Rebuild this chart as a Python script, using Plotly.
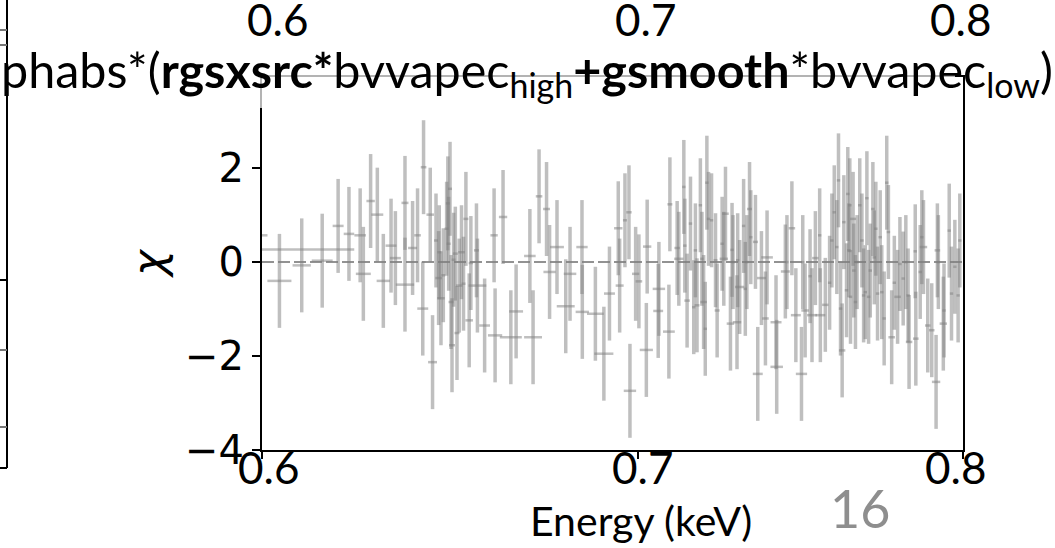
import plotly.graph_objects as go
import math

# ---- data ----
energy_kev = [
    0.5950, 0.5980,
    0.60431, 0.60986, 0.61501, 0.61904, 0.62180, 0.62466, 0.62548, 0.62735, 0.62908,
    0.63063, 0.63263, 0.63376, 0.63626, 0.63626, 0.63825, 0.63955, 0.64113, 0.64092, 0.64289,
    0.64350, 0.64441, 0.64510, 0.64528, 0.64573, 0.64635, 0.64723, 0.64755, 0.64776, 0.64813,
    0.64840, 0.64866, 0.64908, 0.64954, 0.64999, 0.65058, 0.65119, 0.65173, 0.65237, 0.65325,
    0.65370, 0.65520, 0.65546, 0.65740,
    0.65996, 0.66023, 0.66239, 0.66451, 0.66595, 0.66972, 0.67060, 0.67225, 0.67432, 0.67516,
    0.67722, 0.67965, 0.68085, 0.68420, 0.68429, 0.68797, 0.69037,
    0.69196, 0.69446, 0.69486, 0.69637, 0.69752, 0.69780, 0.69943, 0.70037, 0.70275, 0.70251,
    0.70614, 0.70594, 0.70904, 0.70933, 0.71145, 0.71194, 0.71340, 0.71369, 0.71436, 0.71535,
    0.71631, 0.71680, 0.71727, 0.71826, 0.71872, 0.71922, 0.71971, 0.72018, 0.72067, 0.72156,
    0.72274, 0.72322,
    0.72470, 0.72520, 0.72570, 0.72718, 0.72766, 0.72795, 0.72914, 0.72934, 0.72994, 0.73112,
    0.73163, 0.73210, 0.73290, 0.73328, 0.73468, 0.73538, 0.73649, 0.73770, 0.73819, 0.74091,
    0.74112, 0.74375, 0.74424, 0.74575, 0.74696, 0.74869, 0.74908, 0.74981, 0.75133, 0.75193,
    0.75297, 0.75430, 0.75451, 0.75605, 0.75738, 0.75809, 0.75883, 0.75963, 0.76015,
    0.76079, 0.76129, 0.76182, 0.76266, 0.76306, 0.76338, 0.76369, 0.76391, 0.76472, 0.76493,
    0.76546, 0.76596, 0.76681, 0.76749, 0.76803, 0.76856, 0.76906, 0.76960, 0.77013, 0.77095,
    0.77139, 0.77189, 0.77243, 0.77327, 0.77377, 0.77453, 0.77535, 0.77588, 0.77692, 0.77777,
    0.77881, 0.77956, 0.78060, 0.78145, 0.78217, 0.78249, 0.78447, 0.78466, 0.78607, 0.78659,
    0.78713, 0.78851, 0.78980, 0.79121, 0.79163, 0.79195, 0.79356, 0.79379, 0.79549, 0.79624,
    0.79733, 0.79840, 0.79895,
]

energy_halfwidth = [
    0.02815, 0.00335,
    0.00298, 0.00229, 0.00264, 0.00139, 0.00134, 0.00148, 0.00192, 0.00108, 0.00154,
    0.00173, 0.00142, 0.00142, 0.00091, 0.00240, 0.00118, 0.00087, 0.00074, 0.00144, 0.00100,
    0.00118, 0.00053, 0.00087, 0.00053, 0.00100, 0.00053, 0.00053, 0.00053, 0.00053, 0.00053,
    0.00067, 0.00080, 0.00053, 0.00067, 0.00067, 0.00088, 0.00088, 0.00053, 0.00067, 0.00101,
    0.00060, 0.00067, 0.00240, 0.00146,
    0.00099, 0.00193, 0.00113, 0.00300, 0.00190, 0.00159, 0.00246, 0.00090, 0.00096, 0.00170,
    0.00192, 0.00250, 0.00175, 0.00159, 0.00187, 0.00237, 0.00270,
    0.00156, 0.00120, 0.00114, 0.00057, 0.00077, 0.00177, 0.00105, 0.00095, 0.00120, 0.00190,
    0.00180, 0.00143, 0.00172, 0.00072, 0.00080, 0.00135, 0.00050, 0.00050, 0.00080, 0.00050,
    0.00050, 0.00050, 0.00073, 0.00050, 0.00050, 0.00096, 0.00050, 0.00050, 0.00050, 0.00050,
    0.00058, 0.00073,
    0.00050, 0.00124, 0.00098, 0.00112, 0.00050, 0.00050, 0.00127, 0.00050, 0.00139, 0.00050,
    0.00050, 0.00050, 0.00075, 0.00050, 0.00075, 0.00150, 0.00136, 0.00100, 0.00176, 0.00167,
    0.00190, 0.00137, 0.00050, 0.00100, 0.00152, 0.00173, 0.00050, 0.00116, 0.00052, 0.00153,
    0.00100, 0.00052, 0.00154, 0.00100, 0.00052, 0.00052, 0.00052, 0.00052, 0.00052,
    0.00054, 0.00100, 0.00054, 0.00054, 0.00054, 0.00054, 0.00054, 0.00054, 0.00094, 0.00054,
    0.00054, 0.00054, 0.00054, 0.00054, 0.00054, 0.00054, 0.00054, 0.00054, 0.00054, 0.00054,
    0.00054, 0.00054, 0.00054, 0.00054, 0.00054, 0.00054, 0.00054, 0.00054, 0.00104, 0.00054,
    0.00104, 0.00054, 0.00054, 0.00054, 0.00054, 0.00104, 0.00054, 0.00090, 0.00054, 0.00054,
    0.00120, 0.00090, 0.00090, 0.00136, 0.00090, 0.00054, 0.00120, 0.00054, 0.00054, 0.00054,
    0.00054, 0.00054, 0.00054,
]

chi_residual = [
    0.27, 0.57,
    -0.40, -0.07, 0.03, 0.77, 0.60, 0.57, -0.25, 1.30, 1.01,
    -0.40, 0.35, 0.085, 1.26, -0.48, 0.30, 0.57, 2.02, -0.99, 1.01,
    -2.13, 0.46, -0.34, 0.21, -0.77, -0.28, 0.71, 1.25, 0.39, 1.56,
    -0.85, -1.77, 0.05, 0.18, -1.51, -0.50, 0.21, -0.46, 0.92, -1.24,
    -0.02, 0.25, -0.50, -1.35,
    0.57, -1.56, 0.96, -1.60, -1.05, 0.13, -1.60, 1.40, 1.13, -0.21,
    0.32, -0.94, -0.25, 0.32, -1.06, -1.10, -1.95,
    -0.67, 0.72, -0.50, 0.89, 1.06, -2.74, -0.25, -0.41, 0.33, -1.87,
    -0.57, -1.04, -1.48, 1.23, 0.30, 0.07, 1.60, 0.35, -0.82, 0.82,
    -0.96, 0.25, -0.92, 1.21, 0.07, -0.85, -1.42, 1.69, 0.92, 0.89,
    0.04, -1.03,
    0.39, 0.07, 1.03, -1.31, 0.26, 0.00, -1.28, 0.04, -0.53, 0.77,
    -0.57, 0.00, 1.13, 0.53, 0.43, -2.38, -0.34, -1.20, 0.10, -1.28,
    -2.23, -0.20, 0.00, 0.72, -1.13, -2.38, 0.00, -1.03, -0.30, -1.13,
    0.085, 0.57, -1.13, -0.91, -0.44, 0.46, 1.06, 0.32, 1.74,
    -0.99, -1.88, 0.85, -0.60, 1.45, 0.25, 1.21, -0.74, 0.92, -0.18,
    -0.85, 0.00, 1.21, 0.46, -0.71, -0.64, 1.36, -0.74, -0.18, 1.13,
    0.10, 0.71, -0.67, 0.53, -0.64, -1.20, 1.69, 0.64, -1.60, -0.44,
    -0.74, -0.04, -0.35, 0.00, -0.71, -1.70, 0.23, -1.63, -0.21, 0.53,
    0.32, -1.35, -1.45, -2.55, 0.25, 0.00, -1.31, -1.03, 0.67, -0.67,
    -0.10, -0.71, 0.46,
]

chi_sigma = 1.0            # residuals in units of sigma
x_tick_values = [0.6, 0.7, 0.8]
x_tick_labels = ["0.6", "0.7", "0.8"]
y_tick_values = [-4, -2, 0, 2]
x_range = [0.6, 0.8]
y_range = [-4, 3.94]

title_html = ("phabs*(<b>rgsxsrc*</b>bvvapec<sub>high</sub>"
              "<b>+gsmooth</b>*bvvapec<sub>low</sub>)")

W, H = 1055, 548
L, R, T, B = 262, 92, 77, 98
PW, PH = W - L - R, H - T - B


def px(xp):
    return (xp - L) / PW


def py(yp):
    return (H - B - yp) / PH


bar_color = "rgba(128,128,128,0.5)"

fig = go.Figure()
fig.add_trace(go.Scatter(
    x=energy_kev, y=chi_residual, mode="markers",
    marker=dict(size=1, color="rgba(0,0,0,0)"),
    error_y=dict(type="constant", value=chi_sigma, color=bar_color,
                 thickness=3.5, width=0),
    error_x=dict(type="data", array=energy_halfwidth, color=bar_color,
                 thickness=2.5, width=0),
    hoverinfo="skip", showlegend=False,
))

shapes = []
# dashed zero line
shapes.append(dict(type="line", xref="paper", x0=0, x1=1, yref="y", y0=0, y1=0,
                   line=dict(color="rgba(110,110,110,0.75)", width=2, dash="12px,4px"),
                   layer="below"))
# translucent box under the slide title
shapes.append(dict(type="rect", xref="paper", yref="paper",
                   x0=px(0), x1=px(955), y0=py(108), y1=py(40),
                   fillcolor="rgba(255,255,255,0.7)", line=dict(width=0), layer="above"))
# neighbouring panel frame on the far left
shapes.append(dict(type="line", xref="paper", yref="paper", x0=px(7), x1=px(7),
                   y0=py(0), y1=py(468), line=dict(color="black", width=2)))
for yy, col in [(280, "black"), (350, "#777777"), (427, "#777777"), (468, "black"),
                (30, "#777777"), (45, "#777777")]:
    shapes.append(dict(type="line", xref="paper", yref="paper", x0=px(0), x1=px(7),
                       y0=py(yy), y1=py(yy), line=dict(color=col, width=2)))

annotations = []
annotations.append(dict(text=title_html, xref="paper", yref="paper",
                        x=px(527), y=py(72), xanchor="center", yanchor="middle",
                        showarrow=False, font=dict(family="Lato", size=48.5, color="black")))
for lab, xc in zip(x_tick_labels, [277, 645, 960]):
    annotations.append(dict(text=lab, xref="paper", yref="paper", x=px(xc), y=py(19),
                            xanchor="center", yanchor="middle", showarrow=False,
                            font=dict(family="Lato", size=44, color="black")))
for lab, xc in zip(x_tick_labels, [268, 642, 955]):
    annotations.append(dict(text=lab, xref="paper", yref="paper", x=px(xc), y=py(467),
                            xanchor="center", yanchor="middle", showarrow=False,
                            font=dict(family="Lato", size=44, color="black")))
annotations.append(dict(text="Energy (keV)", xref="paper", yref="paper", x=px(641), y=py(520),
                        xanchor="center", yanchor="middle", showarrow=False,
                        font=dict(family="Lato", size=41, color="black")))
annotations.append(dict(text="16", xref="paper", yref="paper", x=px(860), y=py(508),
                        xanchor="center", yanchor="middle", showarrow=False,
                        font=dict(family="Lato", size=52, color="#8e8e8e")))
annotations.append(dict(text="<i>χ</i>", xref="paper", yref="paper", x=px(148), y=py(263),
                        xanchor="center", yanchor="middle", textangle=-90, showarrow=False,
                        font=dict(family="DejaVu Sans", size=44, color="black")))

fig.update_layout(
    width=W, height=H,
    margin=dict(l=L, r=R, t=T, b=B, pad=0),
    paper_bgcolor="white", plot_bgcolor="white",
    showlegend=False,
    shapes=shapes, annotations=annotations,
    xaxis=dict(type="log", range=[math.log10(x_range[0]), math.log10(x_range[1])],
               tickvals=x_tick_values, showticklabels=False,
               ticks="outside", ticklen=7, tickwidth=1.5, tickcolor="black",
               showline=True, linecolor="black", linewidth=2, mirror=True,
               showgrid=False, zeroline=False),
    yaxis=dict(range=y_range, tickvals=y_tick_values,
               ticks="outside", ticklen=8, tickwidth=1.5, tickcolor="black",
               tickfont=dict(family="DejaVu Sans", size=40, color="black"),
               showline=True, linecolor="black", linewidth=2, mirror=True,
               showgrid=False, zeroline=False),
)

fig.write_html("out.html", config={"displayModeBar": False})
